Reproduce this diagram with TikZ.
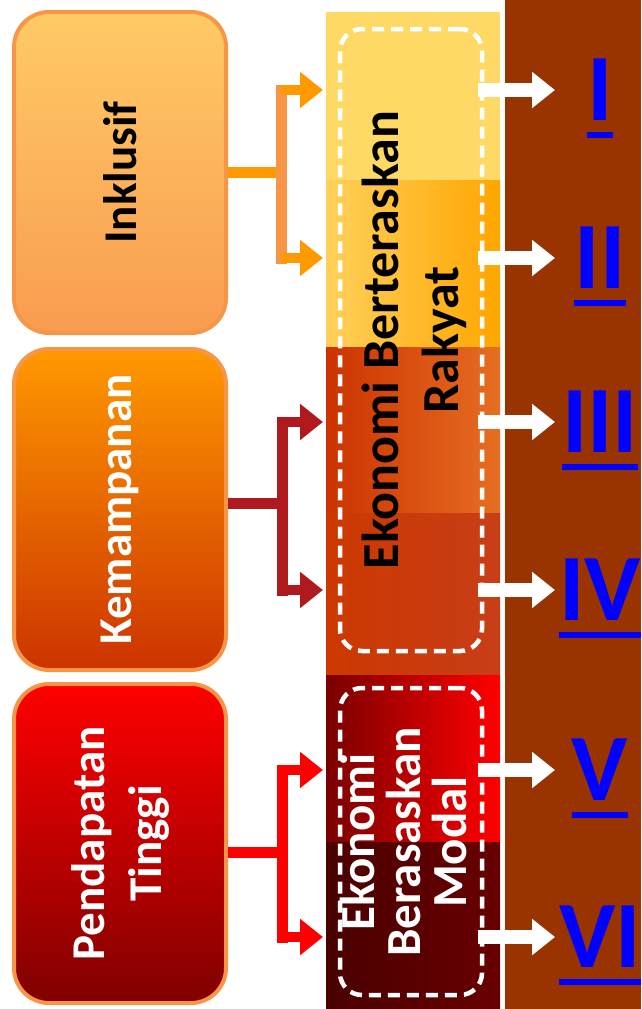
\documentclass[tikz,border=0pt]{standalone}
\usepackage{fontspec}
\setmainfont{Carlito}
\usetikzlibrary{positioning,arrows.meta}

\definecolor{rim}{HTML}{F79646}
\definecolor{numblue}{HTML}{0000FF}
\definecolor{rust}{HTML}{993300}
\definecolor{forkA}{HTML}{FF9900}
\definecolor{forkB}{HTML}{B01A1E}
\definecolor{forkC}{HTML}{FF0000}

\begin{document}
\begin{tikzpicture}[x=1pt,y=-1pt,
    pillar/.style={rectangle,rounded corners=35pt,draw=rim,line width=4pt,
      minimum width=212pt,minimum height=321pt,inner sep=0pt},
    sidetext/.style={rotate=90,align=center,font=\fontsize{47}{57}\selectfont\bfseries},
    band/.style={rectangle,minimum width=174pt,inner sep=0pt,outer sep=0pt},
    dashbox/.style={rectangle,draw=white,line width=4.5pt,dash pattern=on 12pt off 7pt,
      rounded corners=22pt,minimum width=142pt,inner sep=0pt},
    stem/.style={line width=11pt},
    bar/.style={line width=11pt,line cap=rect},
    feed/.style={line width=10pt,-{Triangle[width=35pt,length=23pt]},shorten >=3pt},
    outarrow/.style={white,line width=14pt,-{Triangle[width=35pt,length=23pt]},shorten <=-6pt},
    numeral/.style={text=numblue,font=\fontsize{95}{95}\selectfont\bfseries,inner sep=0pt},
    uline/.style={numblue,line width=6pt}]
\useasboundingbox (0,0) rectangle (641,1009);

% middle column
\node[band,anchor=north west,minimum height=168pt,fill={rgb,255:red,255;green,217;blue,102}] (band1) at (326,12) {};
\node[band,minimum height=167pt,left color={rgb,255:red,255;green,208;blue,90},middle color={rgb,255:red,255;green,192;blue,0},right color={rgb,255:red,255;green,166;blue,0}] (band2) [below=0pt of band1] {};
\node[band,minimum height=166pt,left color={rgb,255:red,204;green,51;blue,0},middle color={rgb,255:red,255;green,152;blue,52},right color={rgb,255:red,230;green,110;blue,34}] (band3) [below=0pt of band2] {};
\node[band,minimum height=162pt,left color={rgb,255:red,204;green,56;blue,0},middle color={rgb,255:red,255;green,104;blue,52},right color={rgb,255:red,200;green,62;blue,24}] (band4) [below=0pt of band3] {};
\node[band,minimum height=167pt,left color={rgb,255:red,122;green,0;blue,0},right color={rgb,255:red,255;green,0;blue,0}] (band5) [below=0pt of band4] {};
\node[band,minimum height=167pt,left color={rgb,255:red,74;green,0;blue,0},right color={rgb,255:red,104;green,0;blue,0}] (band6) [below=0pt of band5] {};

\node[dashbox,minimum height=622pt] (dashR) at (411,340) {};
\node[dashbox,minimum height=307pt] (dashM) at (411,841.5) {};
\node[rotate=90,align=center,font=\fontsize{52}{60}\selectfont\bfseries] (rakyat) at (414,340) {Ekonomi Berteraskan\\Rakyat};
\node[rotate=90,align=center,text=white,font=\fontsize{49}{46}\selectfont\bfseries] (modal) at (403,842) {Ekonomi\\Berasaskan\\Modal};

% right panel
\fill[rust] (505,0) rectangle (641,1009);

% left pillars
\node[pillar,top color={rgb,255:red,255;green,202;blue,102},bottom color={rgb,255:red,249;green,156;blue,80}] (inkl) at (120,172.5) {};
\node[pillar,top color={rgb,255:red,255;green,153;blue,0},bottom color={rgb,255:red,204;green,51;blue,0}] (kemp) [below=12pt of inkl] {};
\node[pillar,minimum height=319pt,top color={rgb,255:red,255;green,0;blue,0},bottom color={rgb,255:red,128;green,0;blue,0}] (pend) [below=10pt of kemp] {};
\node[sidetext] (inklText) at (inkl) {Inklusif};
\node[sidetext,text=white] (kempText) at (kemp) {Kemampanan};
\node[sidetext,text=white] (pendText) at (pend) {Pendapatan\\Tinggi};

% numerals
\node[numeral] (n1) at (600,90) {I};
\node[numeral] (n2) at (600,258) {II};
\node[numeral] (n3) at (600,422) {III};
\node[numeral] (n4) at (600,590) {IV};
\node[numeral] (n5) at (600,770) {V};
\node[numeral] (n6) at (600,937) {VI};
\foreach \n in {n1,n2,n3,n4,n5,n6}
  \draw[uline] ([yshift=-14.5pt]\n.base west) -- ([yshift=-14.5pt]\n.base east);

% forks into the column
\coordinate (fork1) at (281,172);
\coordinate (fork2) at (282,503);
\coordinate (fork3) at (282,852);
\draw[stem,forkA] (inkl.east |- fork1) -- (fork1);
\draw[bar,rim] (fork1 |- n1) -- (fork1 |- n2);
\draw[feed,forkA] (fork1 |- n1) -- (band1.west |- n1);
\draw[feed,forkA] (fork1 |- n2) -- (band2.west |- n2);
\draw[stem,forkB] (kemp.east |- fork2) -- (fork2);
\draw[bar,forkB] (fork2 |- n3) -- (fork2 |- n4);
\draw[feed,forkB] (fork2 |- n3) -- (band3.west |- n3);
\draw[feed,forkB] (fork2 |- n4) -- (band4.west |- n4);
\draw[stem,forkC] (pend.east |- fork3) -- (fork3);
\draw[bar,forkC] (fork3 |- n5) -- (fork3 |- n6);
\draw[feed,forkC] (fork3 |- n5) -- (band5.west |- n5);
\draw[feed,forkC] (fork3 |- n6) -- (band6.west |- n6);

% arrows out to the numerals
\coordinate (tip) at (555,0);
\foreach \n/\b in {n1/dashR,n2/dashR,n3/dashR,n4/dashR,n5/dashM,n6/dashM}
  \draw[outarrow] (\b.east |- \n) -- (tip |- \n);
\end{tikzpicture}
\end{document}
